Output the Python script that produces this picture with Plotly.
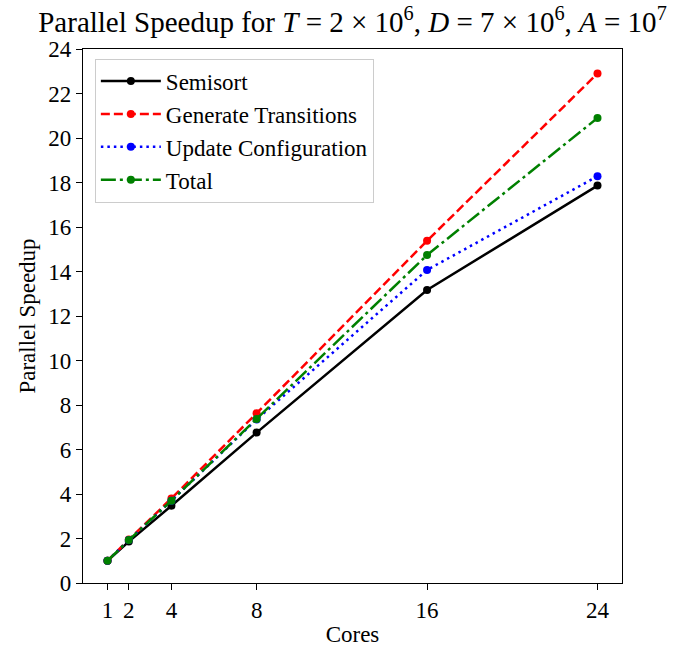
import plotly.graph_objects as go

cores = [1, 2, 4, 8, 16, 24]
semisort = [1.0, 1.86, 3.47, 6.76, 13.17, 17.86]
generate = [1.0, 1.95, 3.80, 7.63, 15.38, 22.90]
update = [1.0, 1.93, 3.70, 7.35, 14.07, 18.28]
total = [1.0, 1.93, 3.70, 7.37, 14.74, 20.90]

x_ticks = [1, 2, 4, 8, 16, 24]
y_ticks = list(range(0, 25, 2))

FONT = "Liberation Serif, Times New Roman, serif"

series = [
    ("Semisort", semisort, "black", "solid"),
    ("Generate Transitions", generate, "red", "9px,4px"),
    ("Update Configuration", update, "blue", "2.5px,4px"),
    ("Total", total, "green", "15px,4px,3px,4px"),
]

fig = go.Figure()
for name, vals, col, dash in series:
    fig.add_trace(go.Scatter(
        x=cores, y=vals, name=name, mode="lines+markers",
        line=dict(color=col, width=2.5, dash=dash),
        marker=dict(color=col, size=8, symbol="circle"),
    ))

fig.update_layout(
    width=678, height=647,
    margin=dict(l=83, r=56, t=49, b=64, autoexpand=False),
    paper_bgcolor="white", plot_bgcolor="white",
    font=dict(family=FONT, size=23, color="black"),
    title=dict(
        text="Parallel Speedup for <i>T</i> = 2 × 10<sup>6</sup>, <i>D</i> = 7 × 10<sup>6</sup>, <i>A</i> = 10<sup>7</sup>",
        x=0.5, xref="paper", xanchor="center",
        y=1 - 22 / 647, yref="container", yanchor="middle",
        font=dict(family=FONT, size=29, color="black"),
    ),
    legend=dict(
        x=0.022, y=0.982, xanchor="left", yanchor="top",
        bgcolor="rgba(255,255,255,0.8)", bordercolor="#cccccc", borderwidth=1,
        font=dict(family=FONT, size=23, color="black"),
        itemwidth=60,
    ),
    showlegend=True,
)

fig.update_xaxes(
    range=[-0.15, 25.15], tickmode="array", tickvals=x_ticks,
    ticktext=[str(t) for t in x_ticks],
    showgrid=False, zeroline=False, automargin=False,
    showline=True, linecolor="black", linewidth=1.3, mirror=True,
    ticks="outside", ticklen=6, tickwidth=1.2, tickcolor="black",
    tickfont=dict(family=FONT, size=23, color="black"),
    title=dict(text="Cores", font=dict(family=FONT, size=23, color="black"), standoff=6),
)
fig.update_yaxes(
    range=[0, 24], tickmode="array", tickvals=y_ticks,
    ticktext=[str(t) for t in y_ticks],
    showgrid=False, zeroline=False, automargin=False,
    showline=True, linecolor="black", linewidth=1.3, mirror=True,
    ticks="outside", ticklen=6, tickwidth=1.2, tickcolor="black",
    tickfont=dict(family=FONT, size=23, color="black"),
    title=dict(text="Parallel Speedup", font=dict(family=FONT, size=23, color="black"), standoff=6),
)

fig.write_html("out.html", config={"displayModeBar": False},
               post_script="document.body.style.margin='0';")
